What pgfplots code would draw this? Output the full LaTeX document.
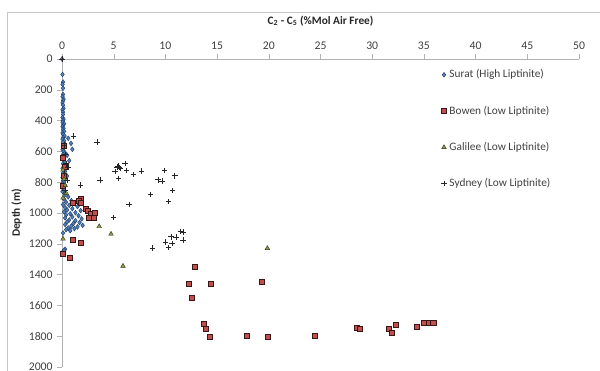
\documentclass[border=0pt]{standalone}
\usepackage{fontspec}
\setmainfont{Carlito}
\usepackage{pgfplots}
\pgfplotsset{compat=1.18}
\definecolor{surat}{HTML}{4F81BD}
\definecolor{suratd}{HTML}{1F3A60}
\definecolor{bowen}{HTML}{C0504D}
\definecolor{bowend}{HTML}{3A1515}
\definecolor{galilee}{HTML}{8A9A48}
\definecolor{galileed}{HTML}{2F3515}
\definecolor{txt}{HTML}{404040}
\begin{document}
\begin{tikzpicture}
\begin{axis}[name=ax, at={(0,0)}, anchor=north west,
  scale only axis, width=387.75pt, height=231pt,
  xmin=0, xmax=50, ymin=0, ymax=2000, y dir=reverse,
  axis x line*=top, axis y line*=left,
  axis line style={draw=gray!60, -},
  tick style={draw=gray!60}, tick align=outside, major tick length=3.5pt,
  xtick={0,5,...,50}, ytick={0,200,...,2000},
  /pgf/number format/assume math mode=true,
  /pgf/number format/1000 sep={},
  tick label style={font=\fontsize{8.8}{10}\selectfont, text=txt},
  xlabel={\textbf{C\textsubscript{2} - C\textsubscript{5} (\%Mol Air Free)}},
  ylabel={\textbf{Depth (m)}},
  xlabel style={at={(axis description cs:0.5,1)}, anchor=center, yshift=28.5pt, font=\fontsize{8.5}{10}\selectfont, text=black!85},
  ylabel style={at={([xshift=-34pt]axis description cs:0,0.5)}, anchor=center, rotate=0, font=\fontsize{8.5}{10}\selectfont, text=black!85},
  legend style={at={(axis description cs:0.733,0.975)}, anchor=north west, draw=none, fill=none,
    font=\fontsize{8.5}{10}\selectfont, text=txt, row sep=15.5pt, inner sep=0pt},
  legend cell align=left,
  clip=false,
]
\addplot[only marks, mark=diamond*, mark size=1.8pt, mark options={fill=surat, draw=suratd, line width=0.3pt}] coordinates {
(0,0)(0.05,100)(0.1,150)(0.05,165)(0.1,190)(0.1,230)(0.05,245)(0.15,260)(0.1,270)(0.05,285)(0.1,300)(0.15,320)(0.05,330)(0.1,345)(0.1,360)(0.05,380)(0.15,390)(0.1,400)(0.05,410)(0.2,420)(0.1,430)(0.05,440)(0.15,450)(0.1,460)(0.2,470)(0.05,480)(0.1,490)(0.25,500)(0.1,510)(0.6,515)(0.05,520)(0.2,530)(0.1,540)(0.87,548)(0.3,555)(0.1,565)(0.2,575)(1.0,586)(0.05,590)(0.15,600)(0.3,610)(0.1,620)(0.5,625)(0.2,635)(0.05,645)(0.15,655)(0.7,660)(0.3,670)(0.1,680)(0.2,690)(0.4,700)(0.05,710)(0.15,720)(0.3,730)(0.1,740)(0.5,760)(0.2,750)(0.05,770)(0.25,780)(0.1,790)(0.2,800)(0.05,810)(0.3,820)(0.15,830)(0.1,840)(0.2,850)(0.05,860)(0.3,870)
(0.3,880)(0.6,895)(0.2,910)(0.9,920)(0.4,930)(1.2,935)(0.1,945)(0.7,950)(1.5,958)(0.3,965)(1.0,972)(0.5,980)(1.8,985)(0.2,992)(1.3,998)(0.8,1005)(0.4,1012)(1.6,1018)(1.0,1025)(0.3,1032)(1.9,1038)(0.7,1045)(1.3,1050)(0.5,1058)(1.7,1062)(1.1,1068)(0.3,1075)(2.0,1080)(0.9,1085)(1.5,1090)(0.6,1097)(1.2,1102)(0.4,1108)(0.8,1115)(0.1,1130)
(0.3,1235)(0.1,1250)(0.2,1242)
};
\addlegendentry{Surat (High Liptinite)}
\addplot[only marks, mark=square*, mark size=1.9pt, mark options={fill=bowen, draw=bowend, line width=0.3pt}] coordinates {
(0.2,560)(0.1,640)(0.3,700)(0.2,760)(0.1,820)
(1.8,909)(1.6,922)(1.06,931)(1.84,933)(2.25,974)(2.5,985)(2.8,1002)(3.2,998)(2.6,1028)(3.1,1028)
(1.06,1175)(1.8,1190)(0.03,1262)(0.7,1288)
(12.8,1348)(12.25,1461)(14.4,1457)(12.5,1552)(19.35,1448)
(13.7,1721)(13.9,1753)(14.25,1803)(17.9,1799)(19.85,1803)(24.4,1799)
(28.5,1747)(28.75,1753)(31.6,1753)(31.9,1779)(32.3,1723)
(34.3,1740)(35.0,1715)(35.5,1712)(35.9,1712)
};
\addlegendentry{Bowen (Low Liptinite)}
\addplot[only marks, mark=triangle*, mark size=2pt, mark options={fill=galilee, draw=galileed, line width=0.3pt}] coordinates {
(0.1,720)(0.2,780)(0.3,820)(0.4,870)(0.1,902)(0.1,1168)(3.6,1087)(4.74,1136)(5.9,1344)(19.86,1229)
};
\addlegendentry{Galilee (Low Liptinite)}
\addplot[only marks, mark=+, mark size=2.1pt, mark options={draw=black!85, line width=0.4pt}] coordinates {
(0,0)(0.2,560)(0.3,620)(0.6,700)(0.4,680)(0.2,740)(0.5,790)(0.3,850)
(1.1,500)(3.4,539)(6.1,678)(5.5,705)(5.3,700)(5.6,712)(5.4,695)(5.15,731)(6.25,723)(7.7,727)(6.9,751)(5.45,775)(3.7,786)
(9.9,725)(10.9,758)(9.3,784)(9.7,792)(1.8,820)(10.7,855)(8.55,881)(10.3,926)(6.5,946)(5.0,1030)
(11.45,1119)(11.7,1125)(10.55,1154)(11.05,1156)(10.0,1188)(10.65,1199)(11.7,1175)(10.3,1225)(8.77,1229)
};
\addlegendentry{Sydney (Low Liptinite)}
\end{axis}
\draw[gray!45] (ax.north west) ++(-41.25pt,35.25pt) -- ++(460pt,0pt);
\draw[gray!45] (ax.north west) ++(-41.25pt,35.25pt) -- ++(0pt,-300pt);
\pgfresetboundingbox
\path (ax.north west) ++(-46.5pt,44.25pt) rectangle ++(450pt,-278.25pt);
\end{tikzpicture}
\end{document}
